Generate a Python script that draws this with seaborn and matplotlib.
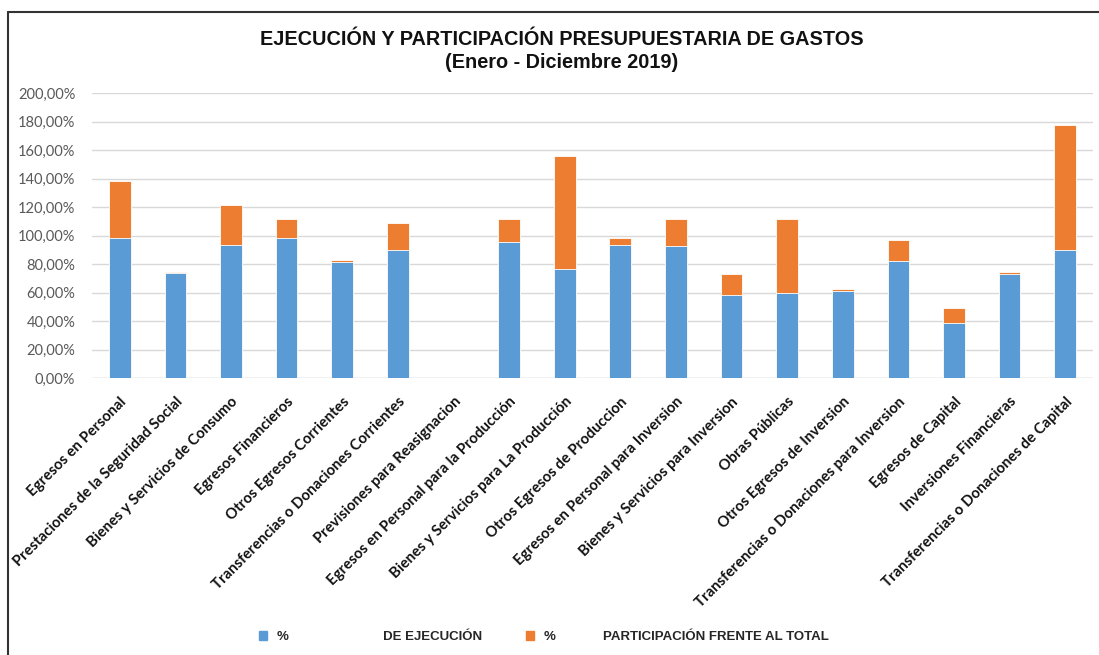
import matplotlib
matplotlib.use("Agg")
import matplotlib.pyplot as plt
from matplotlib.lines import Line2D
from matplotlib.patches import Patch
from matplotlib.ticker import FuncFormatter
import seaborn as sns
import pandas as pd

categorias = [
    "Egresos en Personal",
    "Prestaciones de la Seguridad Social",
    "Bienes y Servicios de Consumo",
    "Egresos Financieros",
    "Otros Egresos Corrientes",
    "Transferencias o Donaciones Corrientes",
    "Previsiones para Reasignacion",
    "Egresos en Personal para la Producción",
    "Bienes y Servicios para La Producción",
    "Otros Egresos de Produccion",
    "Egresos en Personal para Inversion",
    "Bienes y Servicios para Inversion",
    "Obras Públicas",
    "Otros Egresos de Inversion",
    "Transferencias o Donaciones para Inversion",
    "Egresos de Capital",
    "Inversiones Financieras",
    "Transferencias o Donaciones de Capital",
]
ejecucion = [98.4, 73.6, 93.6, 98.4, 81.2, 89.9, 0.0, 95.5, 76.5,
             93.6, 92.5, 58.4, 59.5, 61.4, 81.9, 38.4, 72.9, 89.6]
participacion = [40.0, 1.0, 27.6, 13.4, 1.9, 19.0, 0.0, 16.2, 79.1,
                 4.7, 19.3, 14.4, 52.3, 0.9, 14.6, 10.6, 1.6, 88.2]

titulo = "EJECUCIÓN Y PARTICIPACIÓN PRESUPUESTARIA DE GASTOS"
subtitulo = "(Enero - Diciembre 2019)"
leyenda = ["%" + " " * 26 + "DE EJECUCIÓN",
           "%" + " " * 13 + "PARTICIPACIÓN FRENTE AL TOTAL"]

AZUL = "#5B9BD5"
NARANJA = "#ED7D31"

df = pd.DataFrame({
    "categoria": categorias,
    "ejecucion": ejecucion,
    "total": [a + b for a, b in zip(ejecucion, participacion)],
})

sns.set_theme(style="white")
plt.rcParams["font.family"] = ["Lato", "DejaVu Sans"]

fig = plt.figure(figsize=(10.99, 6.55), dpi=100)
ax = fig.add_axes([92 / 1099, 1 - 378 / 655, (1093 - 92) / 1099, (378 - 93) / 655])

# stacked bars: totals first, execution share drawn over them
sns.barplot(data=df, x="categoria", y="total", color=NARANJA, saturation=1,
            width=0.39, edgecolor="white", linewidth=0.6, ax=ax, zorder=3)
sns.barplot(data=df, x="categoria", y="ejecucion", color=AZUL, saturation=1,
            width=0.39, edgecolor="white", linewidth=0.6, ax=ax, zorder=4)

ax.set_ylim(0, 200)
ax.set_xlim(-0.5, len(categorias) - 0.5)
ax.set_yticks(range(0, 201, 20))
ax.yaxis.set_major_formatter(FuncFormatter(lambda v, p: f"{v:.2f}%".replace(".", ",")))
ax.grid(axis="y", color="#d9d9d9", linewidth=1, zorder=0)
ax.set_axisbelow(True)
for s in ax.spines.values():
    s.set_visible(False)
ax.axhline(0, color="#d9d9d9", linewidth=1, zorder=2)
ax.set_xlabel("")
ax.set_ylabel("")
ax.tick_params(axis="y", length=0, pad=12, labelsize=10.5, labelcolor="#595959")
ax.tick_params(axis="x", length=0, pad=12)
ax.set_xticks(range(len(categorias)))
ax.set_xticklabels(categorias, rotation=45, ha="right", rotation_mode="anchor",
                   fontsize=10.7, fontweight="bold", color="#111111")

title_font = ["Liberation Sans", "DejaVu Sans"]
fig.text(0.511, 1 - 39.5 / 655, titulo, ha="center", va="center", fontsize=14.3,
         fontweight="bold", family=title_font, color="#111111")
fig.text(0.511, 1 - 62.5 / 655, subtitulo, ha="center", va="center", fontsize=14.3,
         fontweight="bold", family=title_font, color="#111111")

# legend at the bottom
handles = [Patch(color=AZUL), Patch(color=NARANJA)]
fig.legend(handles, leyenda, loc="center", bbox_to_anchor=(544 / 1099, 1 - 637 / 655),
           ncol=2, frameon=False, handlelength=0.6, handleheight=0.7,
           handletextpad=0.75, columnspacing=3.3,
           prop={"family": title_font, "weight": "bold", "size": 9.5})

# chart frame: left and top edges
fig.add_artist(Line2D([7.5 / 1099, 7.5 / 1099], [0, 1 - 11.5 / 655], color="#333333",
                      linewidth=1.5, transform=fig.transFigure))
fig.add_artist(Line2D([7.5 / 1099, 1], [1 - 11.5 / 655, 1 - 11.5 / 655], color="#333333",
                      linewidth=1.5, transform=fig.transFigure))

fig.savefig("out.png", dpi=100)
